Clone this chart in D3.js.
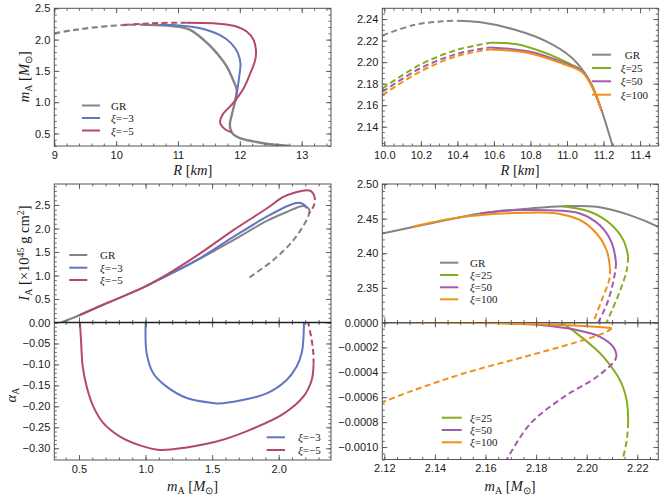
<!DOCTYPE html>
<html>
<head>
<meta charset="utf-8">
<script src="https://cdn.jsdelivr.net/npm/d3@7"></script>
<style>
body { margin: 0; background: #fff; }
</style>
</head>
<body>
<div id="chart"></div>
<script>

// ---- top left: m_A vs R (GR, xi=-3, xi=-5)
var mrGRDash = [[9.0,2.100],[9.3,2.150],[9.6,2.190],[10.0,2.225],[10.2,2.235],[10.38,2.2385]];
var mrGR = [[10.38,2.2385],[10.72,2.230],[10.9,2.218],[11.02,2.205],[11.1,2.188],[11.19,2.158],[11.3,2.09],[11.41,2.0],[11.52,1.9],[11.63,1.78],[11.79,1.57],[11.89,1.357],[11.95,1.20],[11.92,1.0],[11.87,0.8],[11.84,0.66],[11.85,0.56],[11.9,0.48],[12.0,0.427],[12.22,0.373],[12.43,0.336],[12.8,0.30]];
var mrXi3 = [[11.92,1.0],[11.95,1.14],[11.99,1.41],[12.01,1.62],[11.97,1.78],[11.86,1.94],[11.68,2.07],[11.36,2.18],[11.03,2.225],[10.7,2.237]];
var mrXi5 = [[11.87,0.52],[11.77,0.56],[11.70,0.63],[11.68,0.69],[11.72,0.80],[11.89,0.985],[12.06,1.22],[12.16,1.44],[12.25,1.68],[12.26,1.84],[12.22,2.0],[12.11,2.13],[11.9,2.22],[11.57,2.26],[11.14,2.27]];
var mrXi5Dash = [[11.14,2.27],[10.71,2.266],[10.4,2.252],[10.12,2.232]];

// ---- top right: m_A vs R zoom (GR, xi=25, 50, 100)
var zGRDash = [[9.99,2.2248],[10.16,2.2344],[10.32,2.238],[10.40,2.2385]];
var zGR = [[10.40,2.2385],[10.52,2.2372],[10.72,2.2298],[10.89,2.219],[11.02,2.205],[11.08,2.194],[11.13,2.181],[11.19,2.155],[11.25,2.122],[11.27,2.11]];
var z25Dash = [[9.99,2.1756],[10.2,2.198],[10.4,2.2115],[10.58,2.218]];
var z25 = [[10.58,2.218],[10.72,2.2168],[10.89,2.208],[11.02,2.198],[11.08,2.1925],[11.13,2.1805],[11.19,2.155]];
var z50Dash = [[9.99,2.1725],[10.2,2.1945],[10.4,2.2078],[10.58,2.2137]];
var z50 = [[10.58,2.2137],[10.8,2.2097],[10.98,2.1995],[11.08,2.1918],[11.13,2.18],[11.19,2.155]];
var z100Dash = [[9.99,2.1694],[10.2,2.1915],[10.4,2.2058],[10.58,2.2118]];
var z100 = [[10.58,2.2118],[10.8,2.2081],[10.98,2.1983],[11.08,2.191],[11.13,2.1795],[11.19,2.155]];

// ---- bottom left upper: I_A vs m_A
var iGR = [[0.365,0],[0.507,0.16],[0.65,0.34],[0.8,0.52],[1.0,0.77],[1.2,1.05],[1.41,1.36],[1.66,1.75],[1.91,2.16],[2.06,2.35],[2.173,2.475],[2.215,2.45],[2.235,2.37]];
var iGRDash = [[2.235,2.37],[2.21,2.18],[2.11,1.75],[1.96,1.33],[1.76,0.92]];
var iXi3 = [[1.0,0.77],[1.2,1.055],[1.41,1.37],[1.66,1.82],[1.91,2.25],[2.085,2.50],[2.15,2.545],[2.19,2.51],[2.21,2.43]];
var iXi5 = [[0.5,0.15],[0.65,0.34],[0.8,0.52],[1.0,0.77],[1.2,1.09],[1.41,1.47],[1.66,1.965],[1.91,2.425],[2.035,2.67],[2.13,2.77],[2.21,2.815],[2.24,2.80],[2.262,2.73]];
var iXi5Dash = [[2.262,2.73],[2.273,2.60],[2.258,2.45],[2.225,2.32]];

// ---- bottom left lower: alpha_A vs m_A
var aXi3 = [[1.001,0],[1.008,-0.073],[1.058,-0.121],[1.158,-0.153],[1.309,-0.18],[1.509,-0.192],[1.55,-0.193],[1.71,-0.186],[1.91,-0.169],[2.06,-0.137],[2.135,-0.105],[2.173,-0.073],[2.185,-0.042],[2.19,0]];
var aXi5 = [[0.507,0],[0.515,-0.042],[0.528,-0.105],[0.558,-0.153],[0.607,-0.2],[0.683,-0.24],[0.808,-0.272],[0.958,-0.293],[1.108,-0.304],[1.309,-0.298],[1.534,-0.284],[1.785,-0.256],[2.035,-0.218],[2.185,-0.177],[2.248,-0.137],[2.262,-0.10]];
var aXi5Dash = [[2.262,-0.10],[2.26,-0.071],[2.248,-0.042],[2.222,0]];

// ---- bottom right upper: I_A vs m_A zoom
var ziGR = [[2.1192,2.4285],[2.138,2.443],[2.158,2.4575],[2.1776,2.4648],[2.1908,2.468],[2.204,2.467],[2.217,2.455],[2.2283,2.438],[2.232,2.43]];
var zi25 = [[2.1903,2.468],[2.2013,2.46],[2.2092,2.443],[2.2145,2.419],[2.2164,2.395]];
var zi25Dash = [[2.2164,2.395],[2.2158,2.375],[2.2132,2.346],[2.2099,2.317],[2.2079,2.30]];
var zi50 = [[2.158,2.4575],[2.171,2.462],[2.1842,2.462],[2.1973,2.4575],[2.2053,2.44],[2.2099,2.415],[2.2116,2.386]];
var zi50Dash = [[2.2116,2.386],[2.2112,2.372],[2.2085,2.332],[2.2046,2.30]];
var zi100 = [[2.1315,2.4385],[2.1512,2.4526],[2.171,2.458],[2.1881,2.4575],[2.1973,2.448],[2.2039,2.4285],[2.2079,2.404],[2.2092,2.3785]];
var zi100Dash = [[2.2092,2.3785],[2.209,2.363],[2.2059,2.332],[2.2026,2.30]];

// ---- bottom right lower: alpha_A vs m_A zoom
var za25 = [[2.1901,0],[2.196,-0.000087],[2.2026,-0.000196],[2.2066,-0.000276],[2.2132,-0.000465],[2.2158,-0.000626],[2.2164,-0.0008]];
var za25Dash = [[2.2164,-0.0008],[2.2158,-0.00095],[2.2142,-0.0011]];
var za50 = [[2.158,0],[2.175,-0.000012],[2.1815,-0.00002],[2.1947,-0.000055],[2.2053,-0.000115],[2.2105,-0.000196],[2.2118,-0.00026]];
var za50Dash = [[2.2118,-0.00026],[2.2112,-0.000303],[2.2039,-0.000438],[2.1908,-0.0006],[2.1776,-0.000815],[2.1684,-0.0011]];
var za100 = [[2.1315,0],[2.16,-0.000005],[2.1776,-0.000012],[2.195,-0.000025],[2.205,-0.000036],[2.2099,-0.000047]];
var za100Dash = [[2.2099,-0.000047],[2.2079,-0.000074],[2.1987,-0.000141],[2.1776,-0.000263],[2.1512,-0.00041],[2.1315,-0.000545],[2.1192,-0.00064]];

// tick values
var aXTicks = [9,10,11,12,13];
var aYTicks = [0.5,1.0,1.5,2.0,2.5];
var bXTicks = [10.0,10.2,10.4,10.6,10.8,11.0,11.2,11.4];
var bYTicks = [2.14,2.16,2.18,2.20,2.22,2.24];
var cXTicks = [0.5,1.0,1.5,2.0];
var cYTicks = [0.5,1.0,1.5,2.0,2.5];
var dYTicks = [0,-0.05,-0.10,-0.15,-0.20,-0.25,-0.30];
var eXTicks = [2.12,2.14,2.16,2.18,2.20,2.22];
var eYTicks = [2.35,2.40,2.45,2.50];
var fYTicks = [0,-0.0002,-0.0004,-0.0006,-0.0008,-0.0010];

var colGR = "#848484", colXi3 = "#6275c2", colXi5 = "#b3486a";
var col25 = "#84ad1f", col50 = "#a35ca9", col100 = "#f0901c";

var svg = d3.select("#chart").append("svg")
    .attr("width", 665)
    .attr("height", 503);

var sans = "'Liberation Sans', Arial, sans-serif";
var serif = "'Liberation Serif', 'Times New Roman', serif";
var clipCount = 0;

function steps(a, b, step) {
  var out = [];
  for (var i = Math.ceil(a / step - 1e-9); i * step <= b + step * 1e-6; i++) out.push(+(i * step).toFixed(8));
  return out;
}

function panel(box, xDom, yDom) {
  var x = d3.scaleLinear().domain(xDom).range([box.x0, box.x1]);
  var y = d3.scaleLinear().domain(yDom).range([box.y1, box.y0]);
  var id = "clip" + (clipCount++);
  svg.append("clipPath").attr("id", id).append("rect")
      .attr("x", box.x0).attr("y", box.y0)
      .attr("width", box.x1 - box.x0).attr("height", box.y1 - box.y0);
  var plot = svg.append("g").attr("clip-path", `url(#${id})`);
  return {x: x, y: y, box: box, plot: plot};
}

var line = d3.line().curve(d3.curveCatmullRom.alpha(0.5));

function curve(p, data, color, dashed, w) {
  line.x(d => p.x(d[0])).y(d => p.y(d[1]));
  p.plot.append("path")
      .datum(data)
      .attr("d", line)
      .attr("fill", "none")
      .attr("stroke", color)
      .attr("stroke-width", w || 2)
      .attr("stroke-dasharray", dashed ? "6,3.5" : null)
      .attr("stroke-linecap", "butt");
}

function styleAxis(g) {
  g.select(".domain").remove();
  g.selectAll(".tick line").attr("stroke", "#555").attr("stroke-width", 0.9);
  g.selectAll("text").attr("fill", "#1a1a1a").style("font-family", sans).style("font-size", "11px");
}

// o: xMaj, xMin, yMaj, yMin, xLab, xFmt, yLab, yFmt
function frame(p, o) {
  var b = p.box;
  var g = svg.append("g");
  [[d3.axisBottom, b.y1], [d3.axisTop, b.y0]].forEach(function(a) {
    g.append("g").attr("transform", `translate(0,${a[1]})`)
      .call(a[0](p.x).tickValues(o.xMaj).tickSize(-5).tickFormat("")).call(styleAxis);
    g.append("g").attr("transform", `translate(0,${a[1]})`)
      .call(a[0](p.x).tickValues(o.xMin).tickSize(-2.5).tickFormat("")).call(styleAxis);
  });
  [[d3.axisLeft, b.x0], [d3.axisRight, b.x1]].forEach(function(a) {
    g.append("g").attr("transform", `translate(${a[1]},0)`)
      .call(a[0](p.y).tickValues(o.yMaj).tickSize(-5).tickFormat("")).call(styleAxis);
    g.append("g").attr("transform", `translate(${a[1]},0)`)
      .call(a[0](p.y).tickValues(o.yMin).tickSize(-2.5).tickFormat("")).call(styleAxis);
  });
  if (o.xLab) {
    g.append("g").attr("transform", `translate(0,${b.y1})`)
      .call(d3.axisBottom(p.x).tickValues(o.xLab).tickSize(0).tickPadding(5).tickFormat(d3.format(o.xFmt)))
      .call(styleAxis);
  }
  if (o.yLab) {
    g.append("g").attr("transform", `translate(${b.x0},0)`)
      .call(d3.axisLeft(p.y).tickValues(o.yLab).tickSize(0).tickPadding(4).tickFormat(d3.format(o.yFmt)))
      .call(styleAxis);
  }
  g.append("rect")
      .attr("x", b.x0).attr("y", b.y0)
      .attr("width", b.x1 - b.x0).attr("height", b.y1 - b.y0)
      .attr("fill", "none").attr("stroke", "#555").attr("stroke-width", 1);
}

function legend(x0, x1, tx, rows, items) {
  var g = svg.append("g");
  items.forEach(function(it, i) {
    g.append("line")
        .attr("x1", x0).attr("x2", x1).attr("y1", rows[i]).attr("y2", rows[i])
        .attr("stroke", it.color).attr("stroke-width", 2);
    var t = g.append("text")
        .attr("x", tx + (it.dx || 0)).attr("y", rows[i] + 4)
        .style("font-family", serif).style("font-size", "11px").attr("fill", "#1a1a1a");
    if (it.xi) {
      t.append("tspan").style("font-style", "italic").text("\u03be");
      t.append("tspan").text("=" + it.xi);
    } else {
      t.text(it.label);
    }
  });
}

function massLabel(t) {
  t.append("tspan").style("font-style", "italic").text("m");
  t.append("tspan").attr("font-size", 10).attr("dy", 3).text("A");
  t.append("tspan").attr("dy", -3).text(" [");
  t.append("tspan").style("font-style", "italic").text("M");
  t.append("tspan").attr("font-size", 10).attr("dy", 3).text("\u2299");
  t.append("tspan").attr("dy", -3).text("]");
}

function axisText(x, y, rot) {
  return svg.append("text")
      .attr("transform", `translate(${x},${y})` + (rot ? " rotate(-90)" : ""))
      .attr("text-anchor", "middle")
      .style("font-family", serif).style("font-size", "14.5px").attr("fill", "#1a1a1a");
}

// ===== panel A =====
var pA = panel({x0: 54.3, x1: 331, y0: 8.3, y1: 146}, [9, 13.474], [0.3, 2.5]);
curve(pA, mrGRDash, colGR, true, 2.2);
curve(pA, mrGR, colGR, false, 2.4);
curve(pA, mrXi3, colXi3, false);
curve(pA, mrXi5, colXi5, false);
curve(pA, mrXi5Dash, colXi5, true);
frame(pA, {xMaj: aXTicks, xMin: steps(9, 13.5, 0.2), yMaj: aYTicks, yMin: steps(0.3, 2.5, 0.1),
           xLab: aXTicks, xFmt: "d", yLab: aYTicks, yFmt: ".1f"});
legend(82, 100, 111, [105.5, 118, 130.5], [
  {label: "GR", color: colGR}, {xi: "\u22123", color: colXi3}, {xi: "\u22125", color: colXi5}]);

// ===== panel B =====
var pB = panel({x0: 382.3, x1: 658.3, y0: 8.3, y1: 146}, [9.989, 11.5], [2.1221, 2.25]);
curve(pB, zGRDash, colGR, true);
curve(pB, zGR, colGR, false);
curve(pB, z25Dash, col25, true);
curve(pB, z25, col25, false);
curve(pB, z50Dash, col50, true);
curve(pB, z50, col50, false);
curve(pB, z100Dash, col100, true);
curve(pB, z100, col100, false);
frame(pB, {xMaj: bXTicks, xMin: steps(9.989, 11.5, 0.05), yMaj: bYTicks, yMin: steps(2.1221, 2.25, 0.005),
           xLab: bXTicks, xFmt: ".1f", yLab: bYTicks, yFmt: ".2f"});
legend(592, 611, 620.7, [54.7, 68, 81.3, 94.7], [
  {label: "GR", color: colGR, dx: 4}, {xi: "25", color: col25}, {xi: "50", color: col50}, {xi: "100", color: col100}]);

// ===== panel C =====
var pC = panel({x0: 54.3, x1: 331, y0: 184, y1: 322.5}, [0.3145, 2.393], [0, 2.946]);
curve(pC, iGR, colGR, false);
curve(pC, iGRDash, colGR, true);
curve(pC, iXi3, colXi3, false);
curve(pC, iXi5, colXi5, false);
curve(pC, iXi5Dash, colXi5, true);
frame(pC, {xMaj: cXTicks, xMin: steps(0.3145, 2.393, 0.1), yMaj: cYTicks, yMin: steps(0, 2.946, 0.1),
           yLab: cYTicks, yFmt: ".1f"});
legend(69.3, 87.3, 100, [255, 267.7, 280], [
  {label: "GR", color: colGR}, {xi: "\u22123", color: colXi3}, {xi: "\u22125", color: colXi5}]);

// ===== panel D =====
var pD = panel({x0: 54.3, x1: 331, y0: 322.5, y1: 460}, [0.3145, 2.393], [-0.328, 0]);
curve(pD, aXi3, colXi3, false);
curve(pD, aXi5, colXi5, false);
curve(pD, aXi5Dash, colXi5, true);
frame(pD, {xMaj: cXTicks, xMin: steps(0.3145, 2.393, 0.1), yMaj: dYTicks, yMin: steps(-0.328, 0, 0.01),
           xLab: cXTicks, xFmt: ".1f", yLab: dYTicks, yFmt: ".2f"});
svg.append("line").attr("x1", 54.3).attr("x2", 331).attr("y1", pD.y(0)).attr("y2", pD.y(0))
    .attr("stroke", "#222").attr("stroke-width", 1.3);
legend(266.7, 285, 298, [437.3, 450], [
  {xi: "\u22123", color: colXi3}, {xi: "\u22125", color: colXi5}]);

// ===== panel E =====
var pE = panel({x0: 382.3, x1: 658.3, y0: 184, y1: 322.5}, [2.1192, 2.2283], [2.30, 2.50]);
curve(pE, ziGR, colGR, false);
curve(pE, zi25, col25, false);
curve(pE, zi25Dash, col25, true);
curve(pE, zi50, col50, false);
curve(pE, zi50Dash, col50, true);
curve(pE, zi100, col100, false);
curve(pE, zi100Dash, col100, true);
frame(pE, {xMaj: eXTicks, xMin: steps(2.1192, 2.2283, 0.005), yMaj: eYTicks.concat([2.30]), yMin: steps(2.30, 2.50, 0.01),
           yLab: eYTicks, yFmt: ".2f"});
legend(440, 458.3, 470, [262.7, 275, 287.3, 299.3], [
  {label: "GR", color: colGR}, {xi: "25", color: col25}, {xi: "50", color: col50}, {xi: "100", color: col100}]);

// ===== panel F =====
var pF = panel({x0: 382.3, x1: 658.3, y0: 322.5, y1: 459.5}, [2.1192, 2.2283], [-0.0011, 0]);
pF.plot.append("line").attr("x1", 382.3).attr("x2", 658.3).attr("y1", pF.y(0)).attr("y2", pF.y(0))
    .attr("stroke", colGR).attr("stroke-width", 2.4);
curve(pF, za25, col25, false);
curve(pF, za25Dash, col25, true);
curve(pF, za50, col50, false);
curve(pF, za50Dash, col50, true);
curve(pF, za100, col100, false);
curve(pF, za100Dash, col100, true);
frame(pF, {xMaj: eXTicks, xMin: steps(2.1192, 2.2283, 0.005), yMaj: fYTicks, yMin: steps(-0.0011, 0, 0.00005),
           xLab: eXTicks, xFmt: ".2f", yLab: fYTicks, yFmt: ".4f"});
legend(441.7, 461.7, 470, [417.7, 430, 442.3], [
  {xi: "25", color: col25}, {xi: "50", color: col50}, {xi: "100", color: col100}]);

// ===== axis titles =====
var rt = axisText(192.7, 175);
rt.append("tspan").style("font-style", "italic").text("R");
rt.append("tspan").text(" [");
rt.append("tspan").style("font-style", "italic").text("km");
rt.append("tspan").text("]");
var rt2 = axisText(520, 175);
rt2.append("tspan").style("font-style", "italic").text("R");
rt2.append("tspan").text(" [");
rt2.append("tspan").style("font-style", "italic").text("km");
rt2.append("tspan").text("]");

massLabel(axisText(192.5, 491));
massLabel(axisText(510, 491));
massLabel(axisText(29, 76.7, true));

var il = axisText(29, 253, true);
il.append("tspan").style("font-style", "italic").text("I");
il.append("tspan").attr("font-size", 10).attr("dy", 3).text("A");
il.append("tspan").attr("dy", -3).text(" [\u00d710");
il.append("tspan").attr("font-size", 10).attr("dy", -5).text("45");
il.append("tspan").attr("dy", 5).text(" g cm");
il.append("tspan").attr("font-size", 10).attr("dy", -5).text("2");
il.append("tspan").attr("dy", 5).text("]");

var al = axisText(16, 395, true);
al.append("tspan").style("font-style", "italic").text("\u03b1");
al.append("tspan").attr("font-size", 10).attr("dy", 3).text("A");

</script>
</body>
</html>
